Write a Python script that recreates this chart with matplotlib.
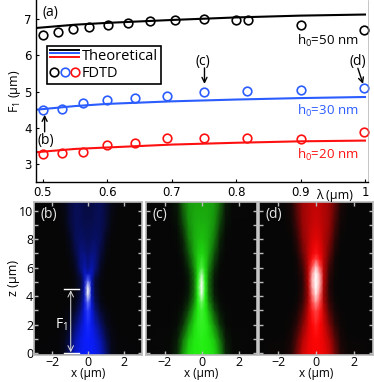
import numpy as np
import matplotlib
matplotlib.use("Agg")
import matplotlib.pyplot as plt
from matplotlib.colors import LinearSegmentedColormap
from matplotlib.legend_handler import HandlerBase, HandlerTuple
from matplotlib.lines import Line2D

plt.rcParams['font.family'] = ['Open Sans', 'DejaVu Sans']
plt.rcParams['mathtext.default'] = 'regular'

# top panel
lam_black = [0.5, 0.523, 0.547, 0.572, 0.601, 0.632, 0.667, 0.706, 0.75, 0.8, 0.818, 0.9, 0.998]
fdtd_black = [6.57, 6.65, 6.71, 6.78, 6.83, 6.89, 6.94, 6.96, 6.99, 6.96, 6.96, 6.84, 6.69]
lam_col = [0.5, 0.53, 0.563, 0.6, 0.643, 0.693, 0.75, 0.817, 0.9, 0.998]
fdtd_blue = [4.49, 4.52, 4.69, 4.78, 4.82, 4.89, 5.0, 5.01, 5.04, 5.10]
fdtd_red = [3.28, 3.31, 3.33, 3.54, 3.57, 3.73, 3.73, 3.73, 3.70, 3.88]
lam_th = [0.49, 0.55, 0.6, 0.7, 0.8, 0.9, 1.0]
th_black = [6.75, 6.84, 6.89, 6.97, 7.04, 7.09, 7.12]
th_blue = [4.50, 4.60, 4.66, 4.73, 4.78, 4.82, 4.85]
th_red = [3.33, 3.42, 3.46, 3.54, 3.59, 3.63, 3.65]

# field maps: half profiles, mirrored about x=0
x_half = [0, 0.2, 0.4, 0.7, 1.0, 1.3, 1.7, 3.2]
z_b = [-0.2, 1, 2, 3, 3.6, 4.1, 4.6, 5.1, 5.6, 6, 7, 8, 9, 10.8]
int_b = [
    [.60, .60, .58, .50, .28, .06, .01, 0],
    [.62, .60, .55, .40, .18, .04, .01, 0],
    [.64, .58, .45, .25, .08, .02, 0, 0],
    [.68, .55, .30, .10, .03, .01, 0, 0],
    [.78, .50, .20, .05, .01, 0, 0, 0],
    [.98, .45, .15, .03, 0, 0, 0, 0],
    [1.0, .45, .12, .02, 0, 0, 0, 0],
    [.75, .42, .12, .03, 0, 0, 0, 0],
    [.45, .46, .22, .05, .01, 0, 0, 0],
    [.32, .42, .30, .07, .01, 0, 0, 0],
    [.26, .30, .30, .14, .03, 0, 0, 0],
    [.20, .22, .24, .20, .06, .01, 0, 0],
    [.18, .18, .20, .20, .12, .02, 0, 0],
    [.14, .15, .18, .20, .14, .05, .01, 0],
]
z_c = [-0.2, 1, 2, 3, 3.6, 4.1, 4.6, 5.1, 5.6, 6, 7, 8, 9, 10.8]
int_c = [
    [.62, .62, .62, .58, .40, .10, .01, 0],
    [.64, .62, .60, .50, .28, .06, .01, 0],
    [.65, .64, .56, .35, .12, .02, 0, 0],
    [.68, .62, .45, .18, .04, .01, 0, 0],
    [.78, .62, .35, .10, .02, 0, 0, 0],
    [.95, .62, .30, .06, .01, 0, 0, 0],
    [1.0, .65, .28, .05, 0, 0, 0, 0],
    [.98, .62, .28, .05, 0, 0, 0, 0],
    [.85, .58, .30, .07, .01, 0, 0, 0],
    [.70, .56, .34, .10, .01, 0, 0, 0],
    [.56, .52, .42, .20, .04, 0, 0, 0],
    [.50, .48, .44, .30, .08, .01, 0, 0],
    [.46, .46, .44, .36, .16, .03, 0, 0],
    [.42, .42, .42, .40, .28, .06, .01, 0],
]
z_d = [-0.2, 1, 2, 3, 3.6, 4.1, 4.6, 5.1, 5.6, 6.1, 6.6, 7, 8, 9, 10.8]
int_d = [
    [.60, .60, .58, .50, .28, .08, .02, 0],
    [.62, .60, .56, .42, .20, .05, .01, 0],
    [.66, .62, .52, .30, .10, .02, 0, 0],
    [.72, .66, .48, .18, .04, .01, 0, 0],
    [.85, .72, .42, .12, .02, 0, 0, 0],
    [.95, .78, .40, .10, .01, 0, 0, 0],
    [1.0, .85, .42, .08, .01, 0, 0, 0],
    [1.0, .88, .45, .09, .01, 0, 0, 0],
    [1.0, .84, .46, .11, .02, 0, 0, 0],
    [.90, .72, .46, .15, .02, 0, 0, 0],
    [.72, .64, .46, .20, .03, 0, 0, 0],
    [.64, .58, .46, .24, .05, 0, 0, 0],
    [.55, .52, .44, .32, .10, .01, 0, 0],
    [.50, .48, .44, .36, .16, .03, 0, 0],
    [.46, .46, .42, .38, .24, .06, .01, 0],
]
panel_names = ['(b)', '(c)', '(d)']
panel_colors = ['#0a1eff', '#22ee11', '#ff0505']

W, H = 374, 382


def make_axes(left, top, right, bottom):
    return fig.add_axes([left / W, 1 - bottom / H, (right - left) / W, (bottom - top) / H])


class StackedLines(HandlerBase):
    def create_artists(self, legend, orig, xd, yd, width, height, fontsize, trans):
        arts = []
        for i, h in enumerate(orig.lines):
            y = height * (1.0 - i * 0.36) - yd
            l = Line2D([-xd, width - xd], [y, y], color=h.get_color(), lw=1.4, transform=trans)
            arts.append(l)
        return arts


class LineGroup:
    def __init__(self, lines):
        self.lines = lines


def arrow(a, tail, head):
    a.annotate('', xy=head, xytext=tail,
               arrowprops=dict(arrowstyle='->', lw=1.0, color='black', shrinkA=0, shrinkB=0,
                               mutation_scale=9))


fig = plt.figure(figsize=(W / 100, H / 100), dpi=100)

ax = make_axes(36, 0, 368, 182)
ax.set_xlim(0.4896, 1.0047)
ax.set_ylim(2.51, 7.52)
l1, = ax.plot(lam_th, th_black, color='black', lw=1.5)
l2, = ax.plot(lam_th, th_blue, color='#2a5cff', lw=1.5)
l3, = ax.plot(lam_th, th_red, color='#ff1010', lw=1.5)
circ = dict(ls='none', marker='o', mfc='none', ms=6.2, mew=1.2, clip_on=False)
c1, = ax.plot(lam_black, fdtd_black, color='black', **circ)
c2, = ax.plot(lam_col, fdtd_blue, color='#2a5cff', **circ)
c3, = ax.plot(lam_col, fdtd_red, color='#ff1010', **circ)

ax.set_xticks([0.5, 0.6, 0.7, 0.8, 0.9, 1.0])
ax.set_xticklabels(['0.5', '0.6', '0.7', '0.8', '0.9', '1'])
ax.set_yticks([3, 4, 5, 6, 7])
ax.tick_params(direction='in', length=2, width=0.8, pad=3)
for t in ax.get_xticklabels() + ax.get_yticklabels():
    t.set_fontfamily('DejaVu Sans')
    t.set_fontsize(8.5)
ax.set_ylabel('F$_1$ (µm)', fontsize=9, labelpad=1)
ax.spines['top'].set_visible(False)
ax.spines['right'].set_linewidth(0.4)
ax.spines['right'].set_color('#999999')
ax.spines['left'].set_linewidth(1.0)
ax.spines['bottom'].set_linewidth(1.0)

leg = ax.legend([LineGroup([l1, l2, l3]), (c1, c2, c3)], ['Theoretical', 'FDTD'],
                handler_map={LineGroup: StackedLines(),
                             tuple: HandlerTuple(ndivide=None, pad=0.15)},
                loc='upper left', bbox_to_anchor=(11 / 332, 1 - 46 / 182),
                borderaxespad=0, fontsize=10.5, frameon=True, fancybox=False,
                framealpha=1, edgecolor='black', handlelength=2.0, handletextpad=0.2,
                borderpad=0.2, labelspacing=0.15)
leg.get_frame().set_linewidth(1.2)

ax.text(0.4995, 7.18, '(a)', fontsize=10, ha='left', va='center', clip_on=False)
ax.text(0.895, 6.39, 'h$_0$=50 nm', fontsize=9.5, color='black', va='center')
ax.text(0.895, 4.47, 'h$_0$=30 nm', fontsize=9.5, color='#2a5cff', va='center')
ax.text(0.895, 3.26, 'h$_0$=20 nm', fontsize=9.5, color='#ff1010', va='center')
ax.text(0.5045, 3.64, '(b)', fontsize=10, ha='center', va='center')
arrow(ax, (0.503, 3.89), (0.503, 4.36))
ax.text(0.749, 5.84, '(c)', fontsize=10, ha='center', va='center')
arrow(ax, (0.751, 5.65), (0.751, 5.21))
ax.text(0.989, 5.82, '(d)', fontsize=10, ha='center', va='center')
arrow(ax, (0.989, 5.64), (0.997, 5.21))
fig.text(335 / W, 1 - 195 / H, 'λ (µm)', fontsize=9, ha='center', va='center')

# field maps
boxes = [(34, 142), (146, 257), (259, 373)]
maps = [(z_b, int_b), (z_c, int_c), (z_d, int_d)]
x_full = np.array([-v for v in x_half[:0:-1]] + x_half)
for i, (left, right) in enumerate(boxes):
    a = make_axes(left, 202, right, 355)
    z, half = maps[i]
    half = np.array(half)
    vals = np.hstack([half[:, :0:-1], half])
    cmap = LinearSegmentedColormap.from_list(
        'beam', [(0, '#060606'), (0.62, panel_colors[i]), (1, 'white')])
    a.pcolormesh(x_full, z, vals, shading='gouraud', cmap=cmap, vmin=0, vmax=1, rasterized=True)
    a.set_xlim(-3, 3)
    a.set_ylim(-0.14, 10.6)
    a.set_xticks([-2, 0, 2])
    a.set_yticks(range(0, 11))
    a.tick_params(direction='in', length=3, width=1.0, color='#bbbbbb',
                  top=True, right=True, labelsize=9, pad=0.5, labelcolor='black')
    if i == 0:
        a.set_yticklabels(['0', '', '2', '', '4', '', '6', '', '8', '', '10'])
        a.set_ylabel('z (µm)', fontsize=9, labelpad=-1)
    else:
        a.set_yticklabels([])
    a.set_xlabel('x (µm)', fontsize=8.5, labelpad=-1)
    for s in a.spines.values():
        s.set_color('#bbbbbb')
        s.set_linewidth(1.2)
    a.text(0.06, 0.92, panel_names[i], transform=a.transAxes, color='white', fontsize=10,
           ha='left', va='center', alpha=0.9)
    if i == 0:
        a.plot([-1.33, -0.5], [4.5, 4.5], color='white', lw=1.0)
        a.plot([-1.33, -0.5], [0, 0], color='white', lw=1.0)
        a.annotate('', xy=(-0.96, 4.4), xytext=(-0.96, 0.05),
                   arrowprops=dict(arrowstyle='<->', color='#dddddd', lw=0.7, shrinkA=0, shrinkB=0))
        a.text(-1.5, 2.0, 'F$_1$', color='white', fontsize=10, ha='center', va='center')

fig.savefig('out.png', dpi=100)
